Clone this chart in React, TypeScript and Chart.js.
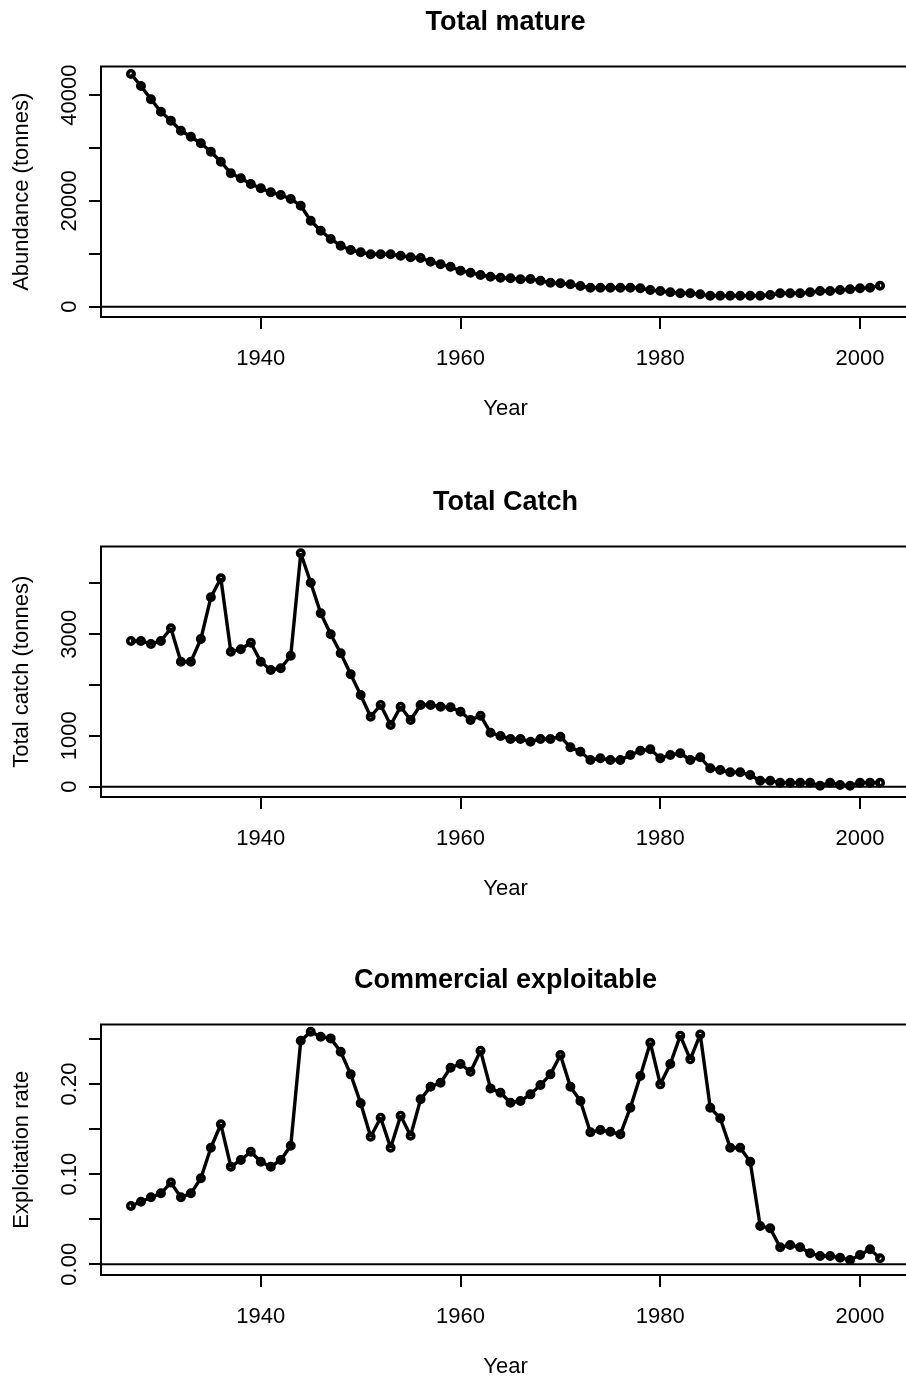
import React, { useEffect, useRef } from 'react';
import { Chart, registerables } from 'chart.js';

Chart.register(...registerables);

const FONT = '"Liberation Sans", Arial, Helvetica, sans-serif';

const years = [
  1927, 1928, 1929, 1930, 1931, 1932, 1933, 1934, 1935, 1936,
  1937, 1938, 1939, 1940, 1941, 1942, 1943, 1944, 1945, 1946,
  1947, 1948, 1949, 1950, 1951, 1952, 1953, 1954, 1955, 1956,
  1957, 1958, 1959, 1960, 1961, 1962, 1963, 1964, 1965, 1966,
  1967, 1968, 1969, 1970, 1971, 1972, 1973, 1974, 1975, 1976,
  1977, 1978, 1979, 1980, 1981, 1982, 1983, 1984, 1985, 1986,
  1987, 1988, 1989, 1990, 1991, 1992, 1993, 1994, 1995, 1996,
  1997, 1998, 1999, 2000, 2001, 2002,
];

const matureAbundance = [
  43980, 41710, 39200, 36860, 35150, 33260, 32130, 30880, 29300, 27400,
  25210, 24270, 23190, 22380, 21620, 21110, 20360, 19090, 16250, 14360,
  12800, 11530, 10720, 10280, 9900, 9900, 9900, 9640, 9340, 9200,
  8510, 8010, 7560, 6800, 6430, 5990, 5670, 5480, 5370, 5180,
  5250, 4910, 4540, 4420, 4230, 3910, 3590, 3590, 3590, 3590,
  3590, 3480, 3160, 2970, 2720, 2530, 2530, 2340, 2080, 2080,
  2080, 2080, 2080, 2080, 2210, 2530, 2530, 2530, 2720, 2970,
  2970, 3160, 3290, 3480, 3590, 3970,
];

const totalCatch = [
  2866, 2866, 2807, 2866, 3116, 2459, 2459, 2905, 3725, 4099,
  2655, 2703, 2832, 2459, 2296, 2329, 2577, 4591, 4013, 3411,
  2998, 2624, 2211, 1804, 1377, 1607, 1214, 1574, 1312, 1607,
  1607, 1574, 1562, 1475, 1312, 1397, 1062, 997, 938, 938,
  885, 938, 938, 984, 775, 688, 525, 559, 525, 525,
  624, 708, 736, 559, 624, 657, 525, 578, 362, 328,
  283, 283, 230, 118, 118, 79, 79, 79, 79, 20,
  79, 33, 20, 79, 79, 79,
];

const exploitationRate = [
  0.0647, 0.0694, 0.0743, 0.0787, 0.0906, 0.0743, 0.0787, 0.0954, 0.1293, 0.1553,
  0.1083, 0.1157, 0.1249, 0.1138, 0.1083, 0.1157, 0.1315, 0.248, 0.258, 0.2524,
  0.2506, 0.2358, 0.2107, 0.1786, 0.1415, 0.1626, 0.1293, 0.1648, 0.1426, 0.183,
  0.1969, 0.2014, 0.2181, 0.2222, 0.2136, 0.2369, 0.1951, 0.1903, 0.1792, 0.1811,
  0.1885, 0.1988, 0.2107, 0.2321, 0.1969, 0.1811, 0.1464, 0.149, 0.1471, 0.1442,
  0.1737, 0.2089, 0.2457, 0.1996, 0.2222, 0.2536, 0.2274, 0.255, 0.1737, 0.162,
  0.1293, 0.1293, 0.1138, 0.0425, 0.0399, 0.0188, 0.0214, 0.0188, 0.0122, 0.0092,
  0.0092, 0.0073, 0.0048, 0.0104, 0.0166, 0.0067,
];

const xTickValues = [1940, 1960, 1980, 2000];
const xTitle = 'Year';

const matureTickValues = [0, 10000, 20000, 30000, 40000];
const matureTickLabels = ['0', '', '20000', '', '40000'];
const catchTickValues = [0, 1000, 2000, 3000, 4000];
const catchTickLabels = ['0', '1000', '', '3000', ''];
const rateTickValues = [0, 0.05, 0.1, 0.15, 0.2, 0.25];
const rateTickLabels = ['0.00', '', '0.10', '', '0.20', ''];

const panelTitles = ['Total mature', 'Total Catch', 'Commercial exploitable'];
const yTitles = ['Abundance (tonnes)', 'Total catch (tonnes)', 'Exploitation rate'];

type Panel = {
  title: string;
  yTitle: string;
  values: number[];
  yMin: number;
  yMax: number;
  tickValues: number[];
  tickLabels: string[];
  labelPad: number;
  top: number;
};

const panels: Panel[] = [
  { title: panelTitles[0], yTitle: yTitles[0], values: matureAbundance, yMin: -1947, yMax: 45400, tickValues: matureTickValues, tickLabels: matureTickLabels, labelPad: -11.2, top: 0 },
  { title: panelTitles[1], yTitle: yTitles[1], values: totalCatch, yMin: -203, yMax: 4725, tickValues: catchTickValues, tickLabels: catchTickLabels, labelPad: -5.1, top: 480 },
  { title: panelTitles[2], yTitle: yTitles[2], values: exploitationRate, yMin: -0.0119, yMax: 0.266, tickValues: rateTickValues, tickLabels: rateTickLabels, labelPad: -2.0, top: 958 },
];

const CW = 930;
const CH = 479;

function makeChart(canvas: HTMLCanvasElement, p: Panel) {
  const frame = {
    id: 'rframe',
    beforeDatasetsDraw(chart: any) {
      const { ctx, chartArea: a, scales } = chart;
      const y0 = scales.y.getPixelForValue(0);
      ctx.save();
      ctx.strokeStyle = '#000';
      ctx.lineWidth = 2;
      ctx.beginPath();
      ctx.moveTo(a.left, y0);
      ctx.lineTo(a.right, y0);
      ctx.stroke();
      ctx.restore();
    },
    afterDraw(chart: any) {
      const { ctx, chartArea: a } = chart;
      ctx.save();
      ctx.strokeStyle = '#000';
      ctx.lineWidth = 2;
      ctx.strokeRect(a.left, a.top, a.right - a.left, a.bottom - a.top);
      ctx.restore();
    },
  };
  const axisGrid = {
    display: true,
    drawOnChartArea: false,
    drawTicks: true,
    tickLength: 12,
    color: '#000',
    tickColor: '#000',
    lineWidth: 2,
    tickWidth: 2,
  };
  return new Chart(canvas, {
    type: 'line',
    data: {
      datasets: [
        {
          data: years.map((x, i) => ({ x, y: p.values[i] })),
          borderColor: '#000',
          borderWidth: 3.4,
          borderJoinStyle: 'bevel',
          borderCapStyle: 'butt',
          pointStyle: 'circle',
          pointRadius: 3.2,
          pointBorderWidth: 3.6,
          pointBackgroundColor: 'rgba(0,0,0,0)',
          pointBorderColor: '#000',
          tension: 0,
        },
      ],
    },
    options: {
      responsive: false,
      animation: false,
      devicePixelRatio: 1,
      events: [],
      layout: { padding: { left: 0, right: 20, top: 0, bottom: 0 } },
      plugins: {
        legend: { display: false },
        tooltip: { enabled: false },
        title: {
          display: true,
          fullSize: false,
          text: p.title,
          color: '#000',
          font: { family: FONT, size: 27, weight: 'bold', lineHeight: 1.2 },
          padding: { top: 6.5, bottom: 27.6 },
        },
      },
      scales: {
        x: {
          type: 'linear',
          min: 1924,
          max: 2005,
          afterBuildTicks: (s: any) => {
            s.ticks = xTickValues.map((v) => ({ value: v }));
          },
          afterFit: (s: any) => {
            s.height = CH - 317;
          },
          ticks: {
            autoSkip: false,
            minRotation: 0,
            maxRotation: 0,
            color: '#000',
            padding: 17,
            font: { family: FONT, size: 22 },
            callback: (v: any) => String(v),
          },
          grid: axisGrid,
          border: { display: true, color: '#000', width: 2 },
          title: {
            display: true,
            text: xTitle,
            color: '#000',
            font: { family: FONT, size: 22 },
            padding: { top: 0, bottom: 56.8 },
          },
        },
        y: {
          type: 'linear',
          min: p.yMin,
          max: p.yMax,
          afterBuildTicks: (s: any) => {
            s.ticks = p.tickValues.map((v) => ({ value: v }));
          },
          afterFit: (s: any) => {
            s.width = 101;
          },
          ticks: {
            autoSkip: false,
            minRotation: 90,
            maxRotation: 90,
            crossAlign: 'center',
            padding: p.labelPad,
            color: '#000',
            font: { family: FONT, size: 22 },
            callback: (_v: any, i: number) => p.tickLabels[i],
          },
          grid: axisGrid,
          border: { display: true, color: '#000', width: 2 },
          title: {
            display: true,
            text: p.yTitle,
            color: '#000',
            font: { family: FONT, size: 22 },
            padding: { top: 8.6, bottom: 0 },
          },
        },
      },
    } as any,
    plugins: [frame],
  } as any);
}

function PanelChart({ p }: { p: Panel }) {
  const ref = useRef<HTMLCanvasElement | null>(null);
  useEffect(() => {
    if (!ref.current) return;
    const chart = makeChart(ref.current, p);
    return () => chart.destroy();
  }, [p]);
  return (
    <canvas
      ref={ref}
      width={CW}
      height={CH}
      style={{ position: 'absolute', left: 0, top: p.top, width: CW, height: CH, display: 'block' }}
    />
  );
}

export default function App() {
  return (
    <div
      style={{
        position: 'absolute',
        left: 0,
        top: 0,
        width: 906,
        height: 1383,
        overflow: 'hidden',
        background: '#fff',
      }}
    >
      {panels.map((p, i) => (
        <PanelChart key={i} p={p} />
      ))}
    </div>
  );
}
